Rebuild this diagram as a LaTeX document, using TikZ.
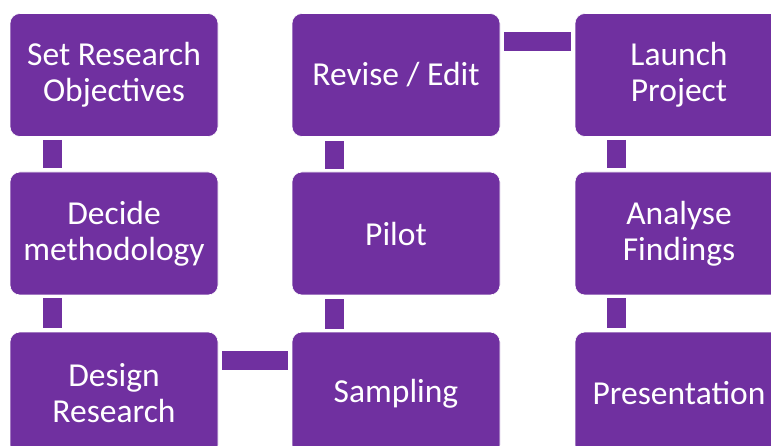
\documentclass[tikz,border=0pt]{standalone}
\usepackage{fontspec}
\setmainfont{Carlito}
\definecolor{boxpurple}{HTML}{7030A0}
\tikzset{
  stage/.style={draw=white, line width=0.6pt, fill=boxpurple, rounded corners=10pt,
    minimum width=208pt, minimum height=123pt, inner sep=0pt, text=white,
    align=center, font=\fontsize{33.5}{36}\selectfont},
  link/.style={draw=boxpurple, line width=19pt},
  vlink/.style={link, shorten <=3pt, shorten >=4pt},
  hlink/.style={link, shorten <=4pt, shorten >=4pt}
}
\begin{document}
\begin{tikzpicture}[x=1pt,y=-1pt]
\useasboundingbox (0,0) rectangle (771,446);
\clip (0,0) rectangle (771,446);
\node[stage] (obj) at (114,75) {Set Research\\Objectives};
\node[stage] (meth) at (114,233.5) {Decide\\methodology};
\node[stage] (design) at (114,393.5) {Design\\Research};
\node[stage] (revise) at (396,75) {Revise / Edit};
\node[stage] (pilot) at (396,233.5) {Pilot};
\node[stage] (samp) at (396,393.5) {Sampling};
\node[stage] (launch) at (679,75) {Launch\\Project};
\node[stage] (analyse) at (679,233.5) {Analyse\\Findings};
\node[stage] (pres) at (679,393.5) {Presentation};
\draw[vlink] ([xshift=-62pt]obj.south) -- ([xshift=-62pt]meth.north);
\draw[vlink] ([xshift=-62pt]meth.south) -- ([xshift=-62pt]design.north);
\draw[hlink] ([yshift=33pt]design.east) -- ([yshift=33pt]samp.west);
\draw[vlink] ([xshift=-62pt]samp.north) -- ([xshift=-62pt]pilot.south);
\draw[vlink] ([xshift=-62pt]pilot.north) -- ([xshift=-62pt]revise.south);
\draw[hlink] ([yshift=33pt]revise.east) -- ([yshift=33pt]launch.west);
\draw[vlink] ([xshift=-63pt]launch.south) -- ([xshift=-63pt]analyse.north);
\draw[vlink] ([xshift=-63pt]analyse.south) -- ([xshift=-63pt]pres.north);
\end{tikzpicture}
\end{document}
